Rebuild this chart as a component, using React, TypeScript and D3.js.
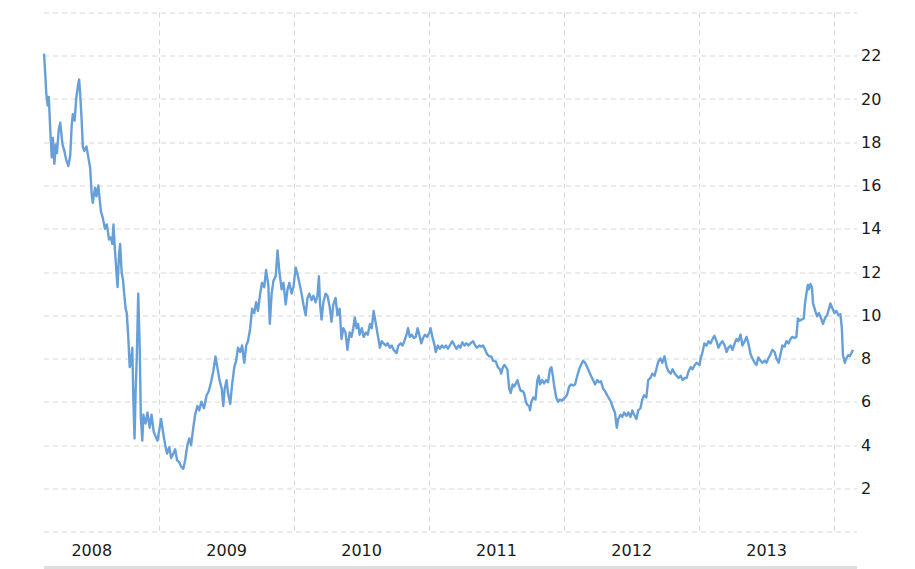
import { useEffect, useRef } from "react";
import * as d3 from "d3";

// [day of year, closing price]
type Pt = [number, number];

const prices2008: Pt[] = [
  [55, 22.1], [59, 21.0], [61, 20.3], [65, 19.7], [68, 20.1], [72, 18.55], [76, 17.3], [79, 18.2],
  [83, 17.0], [87, 17.9], [90, 17.5], [95, 18.6], [99, 18.9], [105, 17.9], [110, 17.6], [115, 17.2],
  [121, 16.9], [126, 17.4], [130, 18.8], [133, 19.3], [138, 19.0], [142, 20.0], [146, 20.5], [150, 20.9],
  [153, 20.2], [157, 19.0], [160, 17.8], [164, 17.6], [170, 17.8], [175, 17.3], [180, 16.8], [184, 15.6],
  [187, 15.2], [193, 15.9], [197, 15.5], [202, 16.0], [206, 15.3], [209, 14.8], [214, 14.5], [220, 14.0],
  [225, 14.2], [231, 13.5], [236, 13.6], [240, 13.3], [243, 14.2], [247, 13.0], [251, 12.0], [254, 11.3],
  [258, 12.8], [261, 13.3], [265, 12.0], [269, 11.6], [272, 11.0], [276, 10.3], [279, 10.1], [283, 9.0],
  [287, 7.6], [290, 7.8], [294, 8.5], [297, 6.0], [300, 4.3], [303, 6.5], [306, 8.0], [310, 11.0],
  [314, 8.5], [317, 5.3], [321, 4.2], [324, 5.4], [327, 5.1], [330, 5.0], [335, 5.5], [341, 4.8],
  [346, 5.4], [352, 4.6], [357, 4.4], [362, 4.2],
];

const prices2009: Pt[] = [
  [3, 4.9], [6, 5.2], [12, 4.5], [17, 4.0], [22, 3.6], [28, 3.9], [33, 3.4], [39, 3.6], [44, 3.8],
  [49, 3.3], [55, 3.2], [60, 3.0], [66, 2.9], [71, 3.3], [77, 4.0], [82, 4.3], [87, 4.0], [93, 4.8],
  [98, 5.4], [104, 5.8], [109, 5.6], [115, 6.0], [122, 5.7], [129, 6.3], [135, 6.5], [141, 6.9],
  [147, 7.4], [153, 8.1], [159, 7.5], [164, 7.0], [170, 6.6], [174, 5.8], [178, 6.6], [183, 7.0],
  [187, 6.4], [193, 5.9], [198, 6.8], [204, 7.6], [209, 7.9], [214, 8.5], [220, 8.3], [225, 8.6],
  [231, 7.8], [236, 8.6], [241, 8.8], [247, 9.4], [252, 10.3], [258, 10.1], [263, 10.6], [268, 10.2],
  [274, 11.0], [279, 11.5], [285, 11.3], [290, 12.1], [296, 11.4], [300, 9.6], [305, 11.0], [310, 11.6],
  [316, 11.8], [321, 13.0], [326, 12.0], [332, 11.2], [337, 11.5], [343, 10.5], [348, 11.2], [353, 11.5],
  [359, 11.0], [364, 11.3],
];

const prices2010: Pt[] = [
  [5, 12.2], [10, 11.9], [15, 11.5], [21, 11.0], [26, 10.5], [32, 10.0], [37, 10.8], [42, 11.0],
  [48, 10.7], [53, 10.9], [59, 10.6], [64, 10.9], [68, 11.8], [71, 10.5], [75, 9.8], [80, 10.6],
  [86, 11.0], [91, 10.9], [97, 10.4], [102, 9.7], [107, 10.5], [113, 10.8], [118, 10.0], [124, 10.3],
  [129, 8.9], [134, 9.4], [140, 9.2], [145, 8.4], [151, 9.2], [156, 9.0], [161, 9.4], [165, 9.9],
  [170, 9.4], [174, 9.6], [178, 9.1], [184, 9.4], [189, 9.0], [195, 9.2], [200, 9.1], [206, 9.6],
  [211, 9.4], [216, 10.2], [222, 9.6], [227, 9.1], [233, 8.5], [238, 8.8], [243, 8.7], [249, 8.6],
  [254, 8.7], [260, 8.5], [265, 8.6], [270, 8.4], [278, 8.25], [283, 8.6], [289, 8.7], [294, 8.6],
  [299, 8.8], [305, 9.1], [309, 9.4], [314, 9.0], [319, 9.1], [325, 8.95], [330, 9.0], [335, 9.4],
  [341, 9.0], [345, 8.7], [350, 8.95], [355, 9.1], [361, 9.0],
];

const prices2011: Pt[] = [
  [2, 9.2], [5, 9.4], [10, 9.0], [16, 8.6], [19, 8.3], [25, 8.6], [30, 8.45], [36, 8.6], [41, 8.5],
  [47, 8.6], [52, 8.45], [57, 8.6], [64, 8.8], [70, 8.6], [75, 8.45], [81, 8.6], [86, 8.5], [91, 8.75],
  [97, 8.6], [102, 8.7], [108, 8.6], [113, 8.7], [120, 8.8], [126, 8.6], [131, 8.5], [137, 8.6],
  [142, 8.55], [147, 8.6], [153, 8.4], [158, 8.2], [164, 8.1], [169, 8.1], [174, 7.9], [182, 7.85],
  [187, 7.6], [193, 7.5], [196, 7.3], [201, 7.6], [205, 7.7], [209, 7.6], [213, 7.5], [218, 6.6],
  [222, 6.4], [227, 6.8], [231, 6.7], [236, 6.85], [240, 7.0], [245, 6.7], [249, 6.5], [254, 6.5],
  [258, 6.4], [263, 6.0], [267, 5.85], [272, 5.8], [274, 5.6], [278, 6.0], [283, 6.2], [289, 6.1],
  [294, 7.0], [298, 7.2], [301, 6.8], [307, 7.0], [312, 6.85], [318, 7.0], [323, 6.9], [328, 7.5],
  [332, 7.6], [336, 7.2], [339, 6.8], [345, 6.2], [350, 6.0], [355, 6.1], [361, 6.05],
];

const prices2012: Pt[] = [
  [4, 6.2], [9, 6.3], [15, 6.7], [20, 6.8], [26, 6.75], [31, 6.8], [37, 7.2], [42, 7.5], [47, 7.7],
  [53, 7.9], [58, 7.8], [64, 7.6], [69, 7.4], [74, 7.2], [80, 7.0], [85, 6.8], [91, 7.0], [96, 6.9],
  [101, 6.95], [107, 6.6], [112, 6.5], [118, 6.3], [123, 6.15], [128, 6.0], [134, 5.7], [139, 5.5],
  [144, 4.8], [148, 5.2], [154, 5.4], [159, 5.3], [164, 5.5], [170, 5.35], [175, 5.5], [181, 5.3],
  [186, 5.6], [191, 5.4], [197, 5.2], [202, 5.6], [208, 5.7], [213, 6.1], [218, 6.3], [224, 6.2],
  [229, 7.0], [235, 7.1], [240, 7.3], [246, 7.2], [251, 7.5], [256, 7.85], [262, 8.0], [267, 7.8],
  [273, 8.1], [279, 7.6], [284, 7.4], [290, 7.3], [295, 7.5], [301, 7.3], [306, 7.2], [311, 7.1],
  [317, 7.2], [322, 7.0], [328, 7.1], [333, 7.1], [338, 7.4], [344, 7.6], [349, 7.5], [355, 7.7],
  [360, 7.8],
];

const prices2013: Pt[] = [
  [2, 7.7], [5, 8.0], [10, 8.3], [15, 8.7], [21, 8.6], [26, 8.8], [32, 8.7], [37, 8.9], [42, 9.05],
  [48, 8.8], [53, 8.5], [59, 8.7], [64, 8.8], [70, 8.6], [75, 8.3], [80, 8.5], [86, 8.6], [91, 8.4],
  [97, 8.7], [102, 8.9], [107, 8.8], [113, 9.1], [118, 8.6], [124, 8.8], [129, 9.0], [134, 8.7],
  [140, 8.2], [145, 8.0], [151, 7.8], [156, 7.7], [161, 8.05], [167, 7.9], [172, 7.8], [178, 7.9],
  [183, 7.8], [188, 8.0], [194, 8.2], [199, 8.4], [205, 8.3], [210, 8.0], [216, 7.8], [221, 8.2],
  [226, 8.6], [232, 8.55], [237, 8.8], [243, 8.7], [248, 8.9], [253, 9.0], [259, 8.95], [264, 9.0],
  [268, 9.85], [273, 9.75], [278, 9.8], [284, 9.85], [287, 10.5], [291, 11.0], [295, 11.4], [298, 11.2],
  [302, 11.45], [306, 11.3], [309, 10.55], [315, 10.2], [320, 9.95], [325, 10.1], [331, 9.85], [336, 9.6],
  [342, 9.9], [347, 10.0], [352, 10.3], [356, 10.55], [362, 10.3],
];

const prices2014: Pt[] = [
  [2, 10.1], [7, 10.2], [13, 10.0], [18, 10.05], [22, 9.4], [25, 8.15], [30, 7.8], [34, 8.0],
  [39, 8.15], [43, 8.1], [48, 8.25], [52, 8.4],
];

const years = [2008, 2009, 2010, 2011, 2012, 2013, 2014];
const yearSeries = [prices2008, prices2009, prices2010, prices2011, prices2012, prices2013, prices2014];
const yTicks = [2, 4, 6, 8, 10, 12, 14, 16, 18, 20, 22];
const yGrid = [0, 2, 4, 6, 8, 10, 12, 14, 16, 18, 20, 22, 24];
const yearLabels = [2008, 2009, 2010, 2011, 2012, 2013];
const yearBreaks = [2009, 2010, 2011, 2012, 2013, 2014];

const WIDTH = 915;
const HEIGHT = 569;
const FONT = "'DejaVu Sans', Verdana, sans-serif";

export default function App() {
  const svgRef = useRef<SVGSVGElement>(null);

  useEffect(() => {
    if (!svgRef.current) return;
    document.body.style.margin = "0";

    const margin = { top: 12.5, right: 58, bottom: 37.5, left: 44 };
    const innerW = WIDTH - margin.left - margin.right;
    const innerH = HEIGHT - margin.top - margin.bottom;

    const svg = d3.select(svgRef.current);
    svg.selectAll("*").remove();

    const points = yearSeries.flatMap((arr, i) =>
      arr.map(([day, v]) => ({ date: new Date(years[i], 0, day), value: v }))
    );

    const x = d3
      .scaleTime()
      .domain([new Date(2008, 1, 24), new Date(2014, 2, 4)])
      .range([0, innerW]);

    const y = d3.scaleLinear().domain([0, 24]).range([innerH, 0]);

    const g = svg.append("g").attr("transform", `translate(${margin.left},${margin.top})`);

    // Horizontal grid
    g.append("g")
      .selectAll("line")
      .data(yGrid)
      .join("line")
      .attr("x1", 0)
      .attr("x2", innerW)
      .attr("y1", (d) => Math.round(y(d)) + 0.5)
      .attr("y2", (d) => Math.round(y(d)) + 0.5)
      .attr("stroke", "#d6d6d6")
      .attr("stroke-dasharray", "5,4");

    // Vertical grid at year boundaries
    g.append("g")
      .selectAll("line")
      .data(yearBreaks)
      .join("line")
      .attr("x1", (d) => Math.round(x(new Date(d, 0, 1))) + 0.5)
      .attr("x2", (d) => Math.round(x(new Date(d, 0, 1))) + 0.5)
      .attr("y1", 0)
      .attr("y2", innerH)
      .attr("stroke", "#d6d6d6")
      .attr("stroke-dasharray", "5,4");

    // Y axis labels on the right
    g.append("g")
      .attr("transform", `translate(${innerW},0)`)
      .call(d3.axisRight(y).tickValues(yTicks).tickSize(0).tickPadding(4))
      .call((axis) => {
        axis.select(".domain").remove();
        axis
          .selectAll("text")
          .attr("fill", "#1a1a1a")
          .attr("font-size", "16px")
          .attr("font-family", FONT);
      });

    // X axis: year labels centred in each year
    g.append("g")
      .attr("transform", `translate(0,${innerH})`)
      .call(
        d3
          .axisBottom(x)
          .tickValues(yearLabels.map((yr) => new Date(yr, 6, 1)))
          .tickFormat((d) => d3.timeFormat("%Y")(d as Date))
          .tickSize(0)
          .tickPadding(13)
      )
      .call((axis) => {
        axis.select(".domain").remove();
        axis
          .selectAll("text")
          .attr("fill", "#1a1a1a")
          .attr("font-size", "16px")
          .attr("font-family", FONT);
      });

    // Price line
    const line = d3
      .line<{ date: Date; value: number }>()
      .x((d) => x(d.date))
      .y((d) => y(d.value));

    g.append("path")
      .datum(points)
      .attr("fill", "none")
      .attr("stroke", "#679fd8")
      .attr("stroke-width", 2.4)
      .attr("stroke-linejoin", "round")
      .attr("d", line);

    // Scroll strip at the bottom
    svg
      .append("rect")
      .attr("x", margin.left)
      .attr("y", HEIGHT - 3)
      .attr("width", innerW)
      .attr("height", 3)
      .attr("fill", "#dedede");
  }, []);

  return <svg ref={svgRef} width={WIDTH} height={HEIGHT} style={{ display: "block" }} />;
}
